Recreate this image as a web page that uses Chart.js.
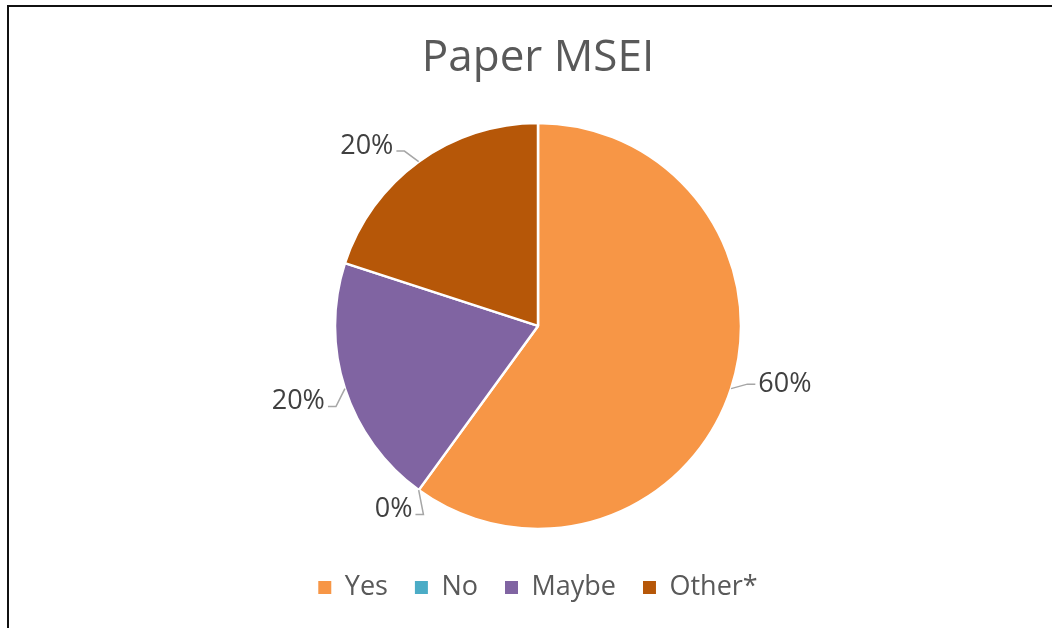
<!DOCTYPE html>
<html>
<head>
<meta charset="utf-8">
<script src="https://cdn.jsdelivr.net/npm/chart.js@4.4.0/dist/chart.umd.min.js"></script>
<style>
    html, body { margin: 0; padding: 0; background: #fff; overflow: hidden; }
    #frame {
        position: absolute; left: 7px; top: 5px; width: 2000px; height: 2000px;
        border-left: 2px solid #111; border-top: 2px solid #111;
    }
    #chart { position: absolute; left: 0; top: 0; }
</style>
</head>
<body>
<div id="frame"></div>
<canvas id="chart" width="1052" height="628"></canvas>
<script>
// datos del grafico
var categorias = ['Yes', 'No', 'Maybe', 'Other*'];
var valores = [60, 0, 20, 20];
var colores = ['#F79646', '#4BACC6', '#8064A2', '#B65708'];

var fuente = "'Open Sans', 'Noto Sans', sans-serif";

// etiquetas de porcentaje con linea guia, fuera del pastel
const etiquetasFuera = {
    id: 'etiquetasFuera',
    afterDatasetsDraw(chart) {
        const ctx = chart.ctx;
        const meta = chart.getDatasetMeta(0);
        const total = valores.reduce((a, b) => a + b, 0);
        ctx.save();
        ctx.font = '27px ' + fuente;
        ctx.fillStyle = '#404040';
        ctx.strokeStyle = '#A6A6A6';
        ctx.lineWidth = 1.5;
        meta.data.forEach((arc, i) => {
            const p = arc.getProps(['x', 'y', 'startAngle', 'endAngle', 'outerRadius'], true);
            const mid = (p.startAngle + p.endAngle) / 2;
            const a2 = mid - 3 * Math.PI / 180;
            const r = p.outerRadius;
            const ex = p.x + Math.cos(mid) * r;
            const ey = p.y + Math.sin(mid) * r;
            const ax = p.x + Math.cos(a2) * (r + 22);
            const ay = p.y + Math.sin(a2) * (r + 22);
            const s = Math.cos(a2) >= 0 ? 1 : -1;
            ctx.beginPath();
            ctx.moveTo(ex, ey);
            ctx.lineTo(ax - s * 8, ay);
            ctx.lineTo(ax, ay);
            ctx.stroke();
            const texto = Math.round(valores[i] / total * 100) + '%';
            ctx.textAlign = s > 0 ? 'left' : 'right';
            ctx.textBaseline = 'middle';
            ctx.fillText(texto, ax + s * 3, ay - (s < 0 ? 5 : 0));
        });
        ctx.restore();
    }
};

function crearGrafico() {
    const data = {
        labels: categorias,
        datasets: [{
            data: valores,
            backgroundColor: colores,
            borderColor: '#ffffff',
            borderWidth: 2.5,
            radius: 203
        }]
    };
    const config = {
        type: 'pie',
        data: data,
        options: {
            responsive: false,
            animation: false,
            layout: { padding: { top: 10, bottom: 17, left: 24, right: 0 } },
            plugins: {
                title: {
                    display: true,
                    text: 'Paper MSEI',
                    color: '#595959',
                    font: { family: fuente, size: 44, weight: 'normal' },
                    padding: { top: 22, bottom: 20 }
                },
                legend: {
                    position: 'bottom',
                    labels: {
                        color: '#595959',
                        font: { family: fuente, size: 27 },
                        boxWidth: 13,
                        boxHeight: 13,
                        padding: 27,
                        generateLabels: function(chart) {
                            const items = Chart.overrides.pie.plugins.legend.labels.generateLabels(chart);
                            items.forEach(it => { it.lineWidth = 0; it.hidden = false; });
                            return items;
                        }
                    }
                },
                tooltip: { enabled: false }
            }
        },
        plugins: [etiquetasFuera]
    };
    new Chart(document.getElementById('chart'), config);
}

crearGrafico();
</script>
</body>
</html>
